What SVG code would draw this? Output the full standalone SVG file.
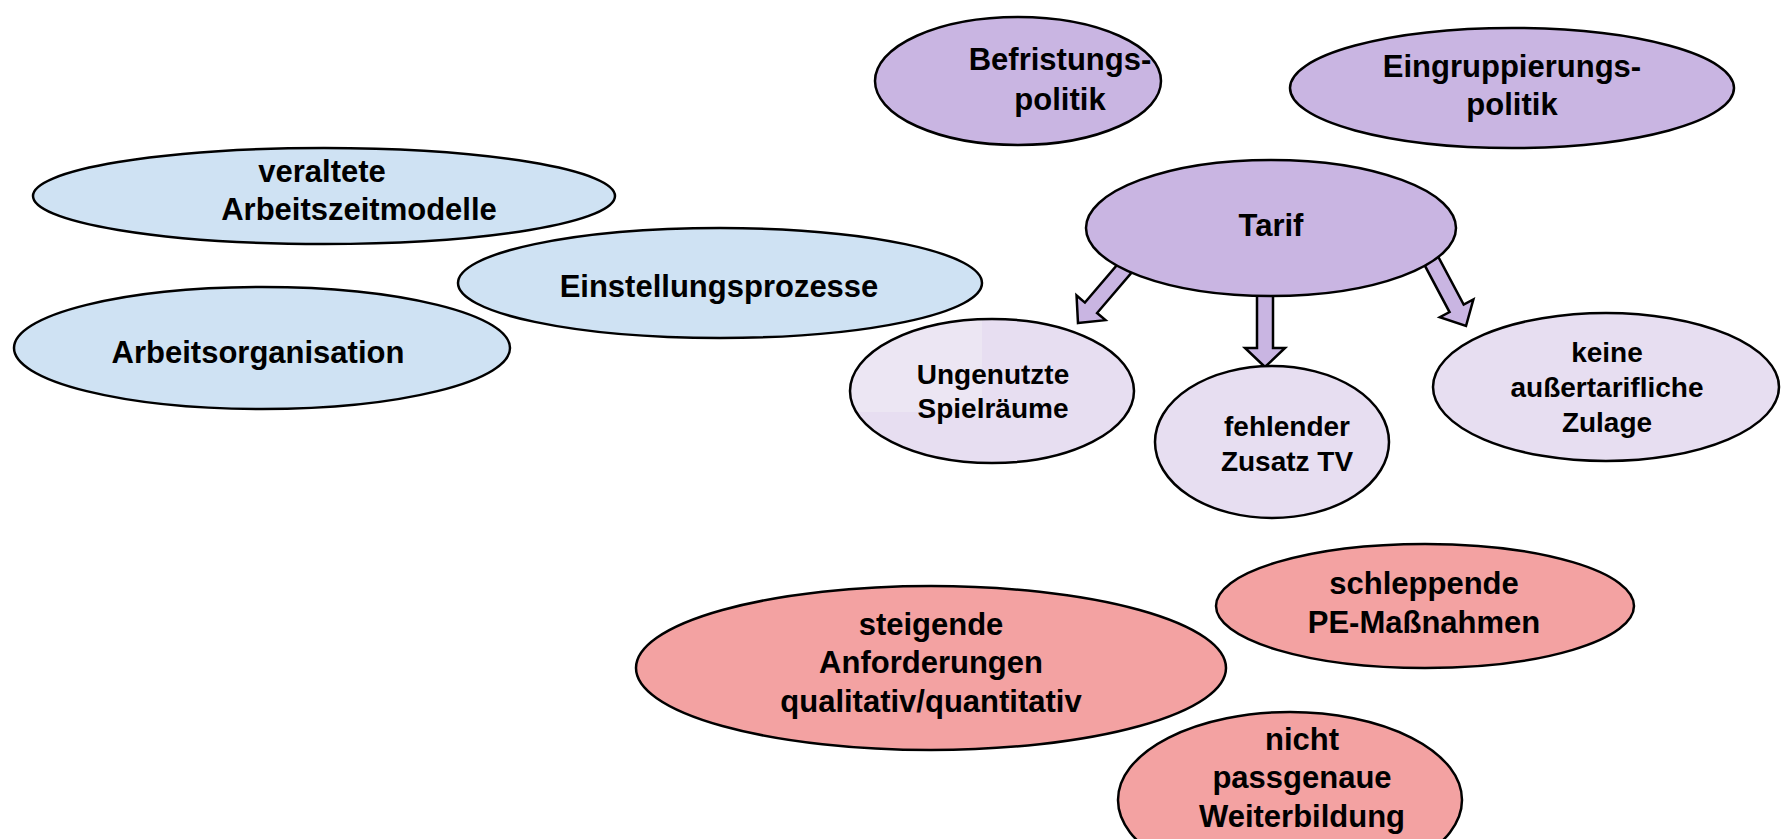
<svg xmlns="http://www.w3.org/2000/svg" width="1782" height="839" viewBox="0 0 1782 839">
<defs>
<style>
.e{stroke:#000;stroke-width:2.5}
.blue{fill:#cfe2f3}
.pur{fill:#c9b5e2}
.lpur{fill:#e7def1}
.red{fill:#f3a2a2}
.t{font-family:"Liberation Sans",Arial,sans-serif;font-weight:bold;font-size:31px;fill:#000;text-anchor:middle}
.s{font-size:28px}
.arr{fill:#c9b5e2;stroke:#000;stroke-width:2.5;stroke-linejoin:miter}
</style>
<clipPath id="clipUng"><ellipse cx="992" cy="391" rx="142" ry="72"/></clipPath>
</defs>
<rect width="1782" height="839" fill="#fff"/>

<g id="veraltete">
<ellipse class="e blue" cx="324" cy="196" rx="291" ry="48"/>
<text class="t" x="322" y="182">veraltete</text>
<text class="t" x="359" y="220">Arbeitszeitmodelle</text>
</g>
<g id="einstellungsprozesse">
<ellipse class="e blue" cx="720" cy="283" rx="262" ry="55"/>
<text class="t" x="719" y="297">Einstellungsprozesse</text>
</g>
<g id="arbeitsorganisation">
<ellipse class="e blue" cx="262" cy="348" rx="248" ry="61"/>
<text class="t" x="258" y="363">Arbeitsorganisation</text>
</g>

<g id="befristungspolitik">
<ellipse class="e pur" cx="1018" cy="81" rx="143" ry="64"/>
<text class="t" x="1060" y="70">Befristungs-</text>
<text class="t" x="1060" y="110">politik</text>
</g>
<g id="eingruppierungspolitik">
<ellipse class="e pur" cx="1512" cy="88" rx="222" ry="60"/>
<text class="t" x="1512" y="77">Eingruppierungs-</text>
<text class="t" x="1512" y="115">politik</text>
</g>

<g id="connectors">
<polygon class="arr" transform="translate(1078,323) rotate(130.5)" points="0,0 -20,-19 -20,-8 -88,-8 -88,8 -20,8 -20,19"/>
<polygon class="arr" transform="translate(1265,367) rotate(90)" points="0,0 -19,-20 -19,-8 -88,-8 -88,8 -19,8 -19,20"/>
<polygon class="arr" transform="translate(1466,326) rotate(62)" points="0,0 -20,-19 -20,-8 -85,-8 -85,8 -20,8 -20,19"/>
</g>

<g id="tarif">
<ellipse class="e pur" cx="1271" cy="228" rx="185" ry="68"/>
<text class="t" x="1271" y="236">Tarif</text>
</g>

<g id="ungenutzte">
<ellipse class="lpur" cx="992" cy="391" rx="142" ry="72"/>
<rect x="850" y="318" width="132" height="94" fill="#ece6f3" clip-path="url(#clipUng)"/>
<ellipse class="e" fill="none" cx="992" cy="391" rx="142" ry="72"/>
<text class="t s" x="993" y="384">Ungenutzte</text>
<text class="t s" x="993" y="418">Spielräume</text>
</g>
<g id="fehlender">
<ellipse class="e lpur" cx="1272" cy="442" rx="117" ry="76"/>
<text class="t s" x="1287" y="436">fehlender</text>
<text class="t s" x="1287" y="471">Zusatz TV</text>
</g>
<g id="keine">
<ellipse class="e lpur" cx="1606" cy="387" rx="173" ry="74"/>
<text class="t s" x="1607" y="362">keine</text>
<text class="t s" x="1607" y="397">außertarifliche</text>
<text class="t s" x="1607" y="432">Zulage</text>
</g>

<g id="steigende">
<ellipse class="e red" cx="931" cy="668" rx="295" ry="82"/>
<text class="t" x="931" y="635">steigende</text>
<text class="t" x="931" y="673">Anforderungen</text>
<text class="t" x="931" y="712">qualitativ/quantitativ</text>
</g>
<g id="schleppende">
<ellipse class="e red" cx="1425" cy="606" rx="209" ry="62"/>
<text class="t" x="1424" y="594">schleppende</text>
<text class="t" x="1424" y="633">PE-Maßnahmen</text>
</g>
<g id="nicht">
<ellipse class="e red" cx="1290" cy="800" rx="172" ry="88"/>
<text class="t" x="1302" y="750">nicht</text>
<text class="t" x="1302" y="788">passgenaue</text>
<text class="t" x="1302" y="827">Weiterbildung</text>
</g>
</svg>
